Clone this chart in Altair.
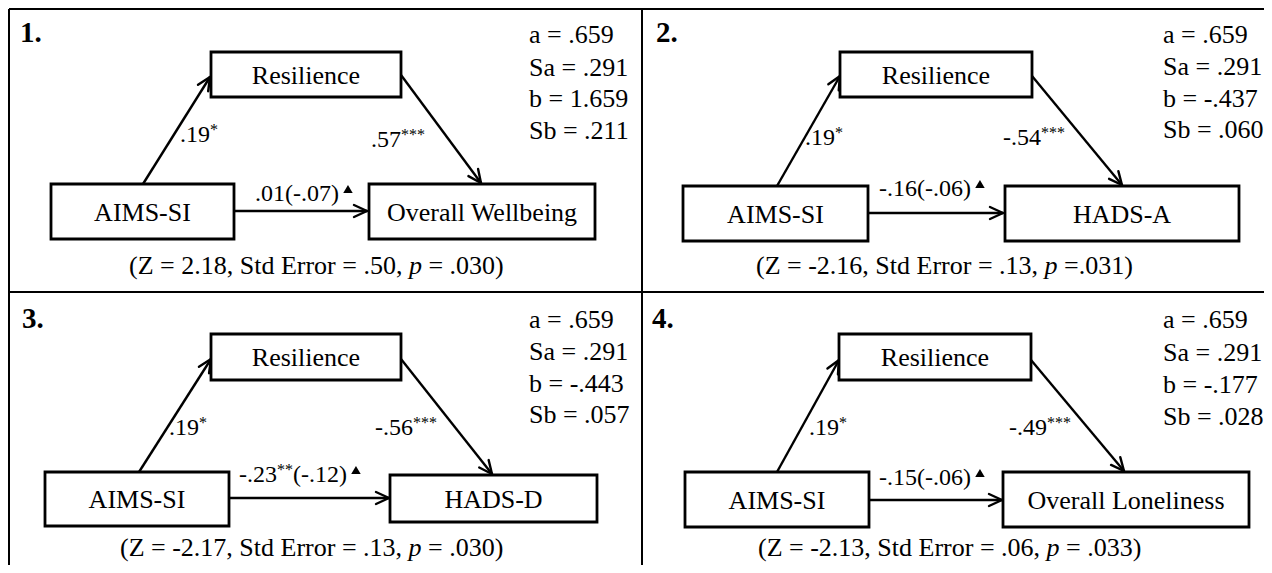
import math
import altair as alt
import pandas as pd

# ---------------- data ----------------
panel_ids = ["1.", "2.", "3.", "4."]
predictor = "AIMS-SI"
mediator = "Resilience"
outcomes = ["Overall Wellbeing", "HADS-A", "HADS-D", "Overall Loneliness"]
a_path = [".19", ".19", ".19", ".19"]
a_sig = ["*", "*", "*", "*"]
b_path = [".57", "-.54", "-.56", "-.49"]
b_sig = ["***", "***", "***", "***"]
c_path = [".01", "-.16", "-.23", "-.15"]
c_sig = ["", "", "**", ""]
c_direct = ["(-.07)", "(-.06)", "(-.12)", "(-.06)"]
stat_a = [".659", ".659", ".659", ".659"]
stat_sa = [".291", ".291", ".291", ".291"]
stat_b = ["1.659", "-.437", "-.443", "-.177"]
stat_sb = [".211", ".060", ".057", ".028"]
sobel_z = ["2.18", "-2.16", "-2.17", "-2.13"]
sobel_se = [".50", ".13", ".13", ".06"]
sobel_p = [".030", ".031", ".030", ".033"]
p_eq = ["= ", "=", "= ", "= "]

# ---------------- layout (page pixel coordinates) ----------------
L = {
    "num": [(20, 42), (656, 42), (22, 328), (652, 328)],
    "med_box": [(211, 401, 52, 97), (840, 1032, 52, 97), (211, 401, 334, 380), (839, 1031, 334, 380)],
    "pre_box": [(51, 234, 184, 239), (683, 868, 186, 241), (45, 229, 472, 526), (685, 869, 472, 527)],
    "out_box": [(369, 595, 184, 239), (1005, 1239, 186, 241), (390, 597, 475, 522), (1003, 1249, 472, 527)],
    "arr_a": [(143, 184, 210, 77), (777, 186, 840, 76), (139, 472, 211, 359), (777, 472, 839, 360)],
    "arr_b": [(401, 75, 481, 183), (1032, 76, 1122, 185), (401, 359, 492, 474), (1031, 360, 1124, 471)],
    "arr_c": [(234, 211, 367, 211), (868, 213, 1003, 213), (229, 498, 389, 498), (869, 500, 1002, 500)],
    "lab_a": [(180, 142), (805, 145), (169, 435), (809, 435)],
    "lab_b": [(371, 147), (1003, 145), (375, 435), (1009, 435)],
    "lab_c": [(255, 201), (879, 196), (239, 482), (879, 485)],
    "stats": [(529, [43, 76, 107, 139]), (1163, [43, 75, 107, 138]),
              (529, [328, 360, 392, 423]), (1163, [328, 361, 393, 425])],
    "sobel": [(129, 274), (756, 274), (120, 556), (758, 556)],
}
FONT = "'Liberation Serif', 'Times New Roman', Times, serif"
NODE_SIZE = 26
LAB_SIZE = 24
SUP_SIZE = 16
STAT_SIZE = 26
SOBEL_SIZE = 26
NUM_SIZE = 29

# Times-compatible advance widths (per 1000 em)
W = {' ': 250, '(': 333, ')': 333, '*': 500, ',': 250, '-': 333, '.': 250, '=': 564,
     'A': 722, 'D': 722, 'E': 611, 'H': 722, 'I': 333, 'L': 611, 'M': 889, 'O': 722,
     'R': 667, 'S': 556, 'W': 944, 'Z': 611, 'a': 444, 'b': 500, 'c': 444, 'd': 500,
     'e': 444, 'g': 500, 'i': 278, 'l': 278, 'n': 500, 'o': 500, 'p': 500, 'r': 333,
     's': 389, 't': 278, 'v': 500, 'y': 500}


def tw(s, size):
    return sum(W.get(ch, 500) for ch in s) * size / 1000.0


texts = []


def run(x, y, s, size, style="n"):
    lead = len(s) - len(s.lstrip(" "))
    body = s.strip(" ")
    if body:
        texts.append(dict(x=x + tw(" " * lead, size), y=y, text=body, size=size, style=style))
    return x + tw(s, size)


boxes, rules, heads, tris, centered = [], [], [], [], []

# panel frame
frame = [
    (9, 9, 1272, 9), (9, 9, 9, 573), (642, 9, 642, 573), (9, 292, 1272, 292),
]

for i in range(4):
    nx, ny = L["num"][i]
    texts.append(dict(x=nx, y=ny, text=panel_ids[i], size=NUM_SIZE, style="b"))
    for key, label in (("med_box", mediator), ("pre_box", predictor), ("out_box", outcomes[i])):
        x1, x2, y1, y2 = L[key][i]
        boxes.append(dict(x=x1, x2=x2, y=y1, y2=y2))
        centered.append(dict(x=(x1 + x2) / 2, y=(y1 + y2) / 2 + 9, text=label, size=NODE_SIZE))
    for key in ("arr_a", "arr_b", "arr_c"):
        x0, y0, x1, y1 = L[key][i]
        rules.append(dict(x=x0, y=y0, x2=x1, y2=y1))
        d = math.hypot(x1 - x0, y1 - y0)
        ux, uy = (x1 - x0) / d, (y1 - y0) / d
        px, py = -uy, ux
        for s in (1, -1):
            heads.append(dict(x=x1 - 13 * ux + s * 6 * px, y=y1 - 13 * uy + s * 6 * py, x2=x1, y2=y1))
    # path labels
    for key, val, sig in (("lab_a", a_path[i], a_sig[i]), ("lab_b", b_path[i], b_sig[i])):
        lx, ly = L[key][i]
        ex = run(lx, ly, val, LAB_SIZE)
        run(ex, ly - 7.5, sig, SUP_SIZE)
    lx, ly = L["lab_c"][i]
    ex = run(lx, ly, c_path[i], LAB_SIZE)
    ex = run(ex, ly - 7.5, c_sig[i], SUP_SIZE) if c_sig[i] else ex
    ex = run(ex, ly, c_direct[i], LAB_SIZE)
    tris.append(dict(x=ex + 9, y=ly - 12))
    # stats
    sx, sys_ = L["stats"][i]
    for yy, s in zip(sys_, ["a = " + stat_a[i], "Sa = " + stat_sa[i], "b = " + stat_b[i], "Sb = " + stat_sb[i]]):
        run(sx, yy, s, STAT_SIZE)
    # sobel test line
    bx, by = L["sobel"][i]
    ex = run(bx, by, "(Z = " + sobel_z[i] + ", Std Error = " + sobel_se[i] + ", ", SOBEL_SIZE)
    ex = run(ex, by, "p", SOBEL_SIZE, "i")
    run(ex, by, " " + p_eq[i] + sobel_p[i] + ")", SOBEL_SIZE)

xs = alt.Scale(domain=[8, 1264], nice=False, zero=False)
ys = alt.Scale(domain=[565, 8], nice=False, zero=False)
X = alt.X("x:Q", scale=xs, axis=None)
Y = alt.Y("y:Q", scale=ys, axis=None)

df_frame = pd.DataFrame([dict(x=a, y=b, x2=c, y2=d) for a, b, c, d in frame])
frame_layer = alt.Chart(df_frame).mark_rule(color="black", strokeWidth=2).encode(X, Y, x2="x2:Q", y2="y2:Q")
arrow_layer = alt.Chart(pd.DataFrame(rules)).mark_rule(color="black", strokeWidth=2.4).encode(X, Y, x2="x2:Q", y2="y2:Q")
head_layer = alt.Chart(pd.DataFrame(heads)).mark_rule(color="black", strokeWidth=2.4, strokeCap="round").encode(X, Y, x2="x2:Q", y2="y2:Q")
box_layer = alt.Chart(pd.DataFrame(boxes)).mark_rect(fill="white", stroke="black", strokeWidth=2.8).encode(X, Y, x2="x2:Q", y2="y2:Q")
tri_layer = alt.Chart(pd.DataFrame(tris)).mark_point(shape="triangle-up", filled=True, color="black", size=90, opacity=1).encode(X, Y)

df_t = pd.DataFrame(texts)
def tlayer(df, **kw):
    return alt.Chart(df).mark_text(font=FONT, baseline="alphabetic", color="black", **kw).encode(
        X, Y, text="text:N", size=alt.Size("size:Q", scale=None, legend=None))

layers = [frame_layer, arrow_layer, head_layer, box_layer, tri_layer,
          tlayer(pd.DataFrame(centered), align="center"),
          tlayer(df_t[df_t["style"] == "n"], align="left"),
          tlayer(df_t[df_t["style"] == "b"], align="left", fontWeight="bold"),
          tlayer(df_t[df_t["style"] == "i"], align="left", fontStyle="italic")]

chart = alt.layer(*layers).properties(
    width=1256, height=557, padding=0, background="white",
    autosize=alt.AutoSizeParams(type="none"),
).configure_view(stroke=None)

chart.save("out.html", embed_options={"renderer": "svg", "actions": False})
